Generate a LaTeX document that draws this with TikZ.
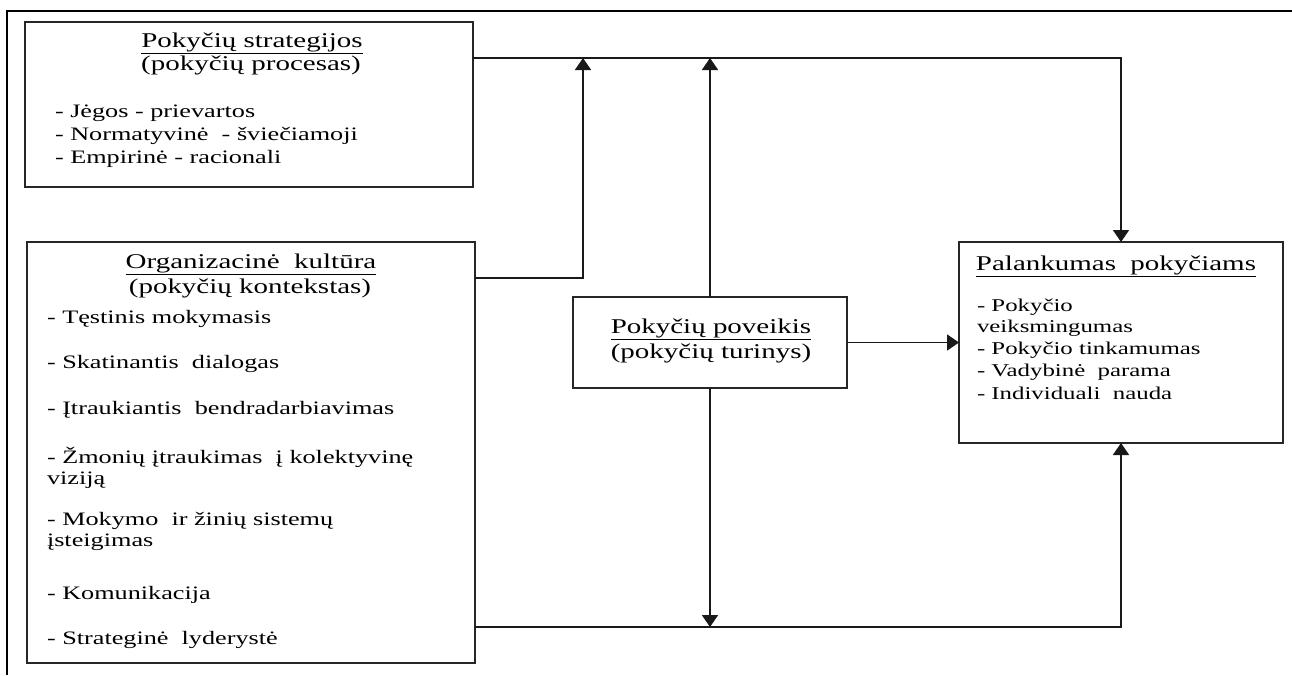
\documentclass[tikz,border=0pt]{standalone}
\usepackage{fontspec}
\setmainfont{Liberation Serif}[FakeStretch=1.38]
\usetikzlibrary{arrows.meta}
\newcommand{\headfont}{\fontsize{21}{23}\selectfont}
\newcommand{\listfont}{\fontsize{19}{22}\selectfont}
\newcommand{\smallfont}{\fontsize{18}{22}\selectfont}
\begin{document}
\begin{tikzpicture}[x=1pt,y=-1pt]
\tikzset{
  box/.style={draw=black!85, line width=1.4pt, inner sep=0pt, outer sep=0pt},
  txt/.style={inner sep=0pt, outer sep=0pt},
  head/.style={txt, anchor=base, font=\headfont},
  item/.style={txt, anchor=base west, font=\listfont},
  sitem/.style={txt, anchor=base west, font=\smallfont},
  frame/.style={line width=1.2pt, black},
  link/.style={line width=1.8pt, black!90, -{Triangle[width=16pt,length=12pt]}}
}
\useasboundingbox (0,0) rectangle (1292,675);

% outer frame (top and left edges)
\coordinate (fBL) at (7,675);
\coordinate (fTL) at (7,11);
\coordinate (fTR) at (1292,11);
\draw[frame] (fBL) -- (fTL) -- (fTR);

% boxes
\node[box, minimum width=448pt, minimum height=165pt] (S) at (249,104.5) {};
\node[box, minimum width=448pt, minimum height=421pt] (O) at (251,452.5) {};
\node[box, minimum width=274pt, minimum height=91pt]  (P) at (710,342.5) {};
\node[box, minimum width=324pt, minimum height=201pt] (A) at (1121,342.5) {};

% change strategies
\node[head] (S1) at (252,47) {\underline{Pokyčių strategijos}};
\node[head] (S2) at (251,70) {(pokyčių procesas)};
\node[item] (S3) at (55,117) {- Jėgos - prievartos};
\node[item] (S4) at (55,140) {- Normatyvinė\ \ - šviečiamoji};
\node[item] (S5) at (55,163) {- Empirinė - racionali};

% organisational culture
\node[head] (O1) at (251,268) {\underline{Organizacinė\ \ kultūra}};
\node[head] (O2) at (250,293) {(pokyčių kontekstas)};
\node[item] (O3)  at (47,323) {- Tęstinis mokymasis};
\node[item] (O4)  at (47,368) {- Skatinantis\ \ dialogas};
\node[item] (O5)  at (47,414) {- Įtraukiantis\ \ bendradarbiavimas};
\node[item] (O6)  at (47,463) {- Žmonių įtraukimas\ \ į kolektyvinę};
\node[item] (O7)  at (47,484) {viziją};
\node[item] (O8)  at (47,525) {- Mokymo\ \ ir žinių sistemų};
\node[item] (O9)  at (47,546) {įsteigimas};
\node[item] (O10) at (47,599) {- Komunikacija};
\node[item] (O11) at (47,644) {- Strateginė\ \ lyderystė};

% impact of change
\node[head] (P1) at (711,333) {\underline{Pokyčių poveikis}};
\node[head] (P2) at (711,358) {(pokyčių turinys)};

% readiness for change
\node[head] (A1) at (1116,270) {\underline{Palankumas\ \ pokyčiams}};
\node[sitem] (A2) at (977,311) {- Pokyčio};
\node[sitem] (A3) at (977,332) {veiksmingumas};
\node[sitem] (A4) at (977,354) {- Pokyčio tinkamumas};
\node[sitem] (A5) at (977,376) {- Vadybinė\ \ parama};
\node[sitem] (A6) at (977,399) {- Individuali\ \ nauda};

% connectors
\coordinate (busT) at (0,58);
\coordinate (busB) at (0,627);
\coordinate (bendO) at (583,278);
\draw[link] (S.east |- busT) -- (A.north |- busT) -- (A.north);
\draw[link] (O.east |- bendO) -- (bendO) -- (bendO |- busT);
\draw[link] (P.north) -- (P.north |- busT);
\draw[link] (P.east) -- (A.west |- P.east);
\draw[link] (P.south) -- (P.south |- busB);
\draw[link] (O.east |- busB) -- (A.south |- busB) -- (A.south);
\end{tikzpicture}
\end{document}
